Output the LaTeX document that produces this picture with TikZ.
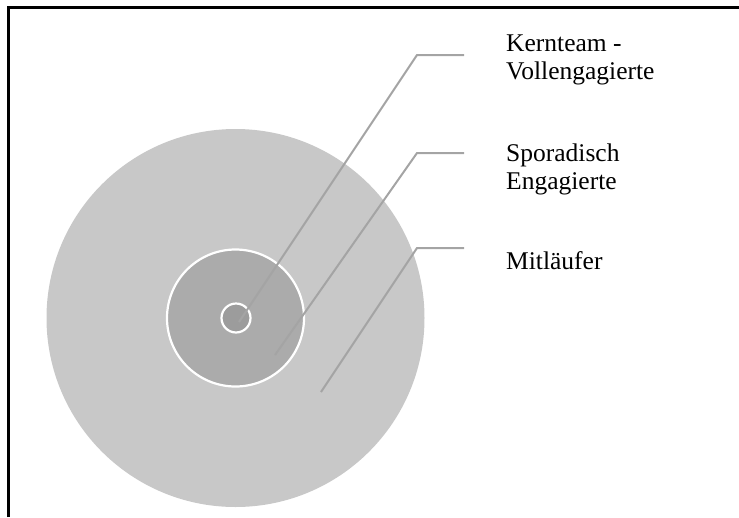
\documentclass[tikz,border=0pt]{standalone}
\usepackage{fontspec}
\setmainfont{Liberation Serif}
\definecolor{outerring}{HTML}{C8C8C8}
\definecolor{midring}{HTML}{ABABAB}
\definecolor{corering}{HTML}{9C9C9C}
\definecolor{leader}{HTML}{A4A4A4}
\begin{document}
\begin{tikzpicture}[x=1pt,y=-1pt,
  ringlabel/.style={anchor=north west,align=left,inner sep=0pt,
    font=\fontsize{25.5}{28}\selectfont},
  leaderline/.style={draw=leader,line width=2pt},
  ringfill/.style={draw=white,line width=2.2pt}]
\useasboundingbox (0,0) rectangle (739,517);
% frame: top and left edges only
\draw[line width=3pt] (8,517) -- (8,7.5) -- (739,7.5);
% concentric groups
\fill[outerring] (235.5,318) circle (189);
\node[ringfill,fill=midring,circle,minimum size=137pt,inner sep=0pt] (mid) at (235.5,318) {};
\node[ringfill,fill=corering,circle,minimum size=29pt,inner sep=0pt] (core) at (236,318) {};
% labels
\node[ringlabel] (lk) at (506,35) {Kernteam -\\Vollengagierte};
\node[ringlabel] (ls) at (506,143.5) {Sporadisch\\Engagierte};
\node[ringlabel] (lm) at (506,251) {Mitläufer};
% leader lines
\coordinate (pk) at (239,322);
\coordinate (ps) at (275,355);
\coordinate (pm) at (321,392);
\coordinate (kk) at (417,55);
\coordinate (ks) at (417,153);
\coordinate (km) at (417,248);
\draw[leaderline] (pk) -- (kk) -- (464,55);
\draw[leaderline] (ps) -- (ks) -- (464,153);
\draw[leaderline] (pm) -- (km) -- (464,248);
\end{tikzpicture}
\end{document}
